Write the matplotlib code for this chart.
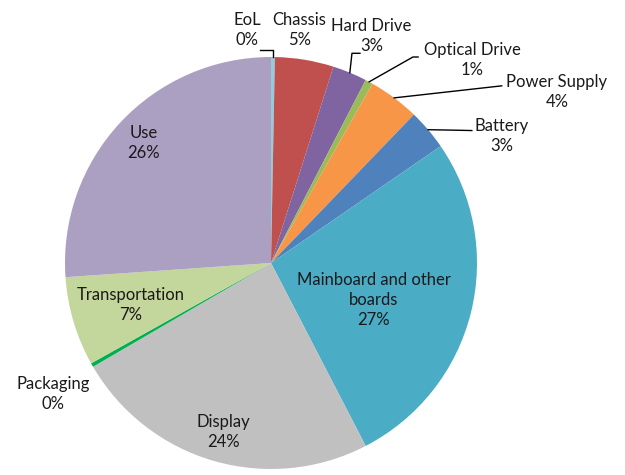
import numpy as np
from matplotlib import pyplot as plt

# dados (percentuais)
componentes = ["EoL", "Chassis", "Hard Drive", "Optical Drive", "Power Supply",
               "Battery", "Mainboard and other\nboards", "Display", "Packaging",
               "Transportation", "Use"]
valores = [0.3, 4.6, 2.7, 0.6, 4.0, 3.2, 27.0, 24.2, 0.3, 7.0, 26.1]
cores = ["#93CDDD", "#C0504D", "#8064A2", "#9BBB59", "#F79646", "#4F81BD",
         "#4BACC6", "#C0C0C0", "#00B050", "#C3D69B", "#ACA0C2"]

# posicoes dos rotulos (coordenadas do pie, raio 1)
pos_rotulos = [(-0.116, 1.131), (0.138, 1.131), (0.488, 1.102), (0.976, 0.985),
               (1.388, 0.830), (1.121, 0.617), (0.50, -0.180), (-0.233, -0.820),
               (-1.058, -0.636), (-0.680, -0.204), (-0.617, 0.583)]
# linhas de chamada: pontos intermediarios e final (None = mesmo x da borda)
chamadas = {
    0: [(None, 1.034), (-0.053, 1.034)],
    2: [(0.393, 1.018), (0.432, 1.018)],
    3: [(0.689, 1.0), (0.714, 1.0)],
    4: [(1.12, 0.86)],
    5: [(0.88, 0.645), (0.975, 0.643)],
}

fig = plt.figure(figsize=(6.25, 4.75), dpi=100)
ax = fig.add_axes([0, 0, 1, 1])

wedges, _ = ax.pie(valores, colors=cores, startangle=90, counterclock=False,
                   radius=1, center=(0, 0), frame=True,
                   wedgeprops=dict(linewidth=0))
# pixel -> coordenada: centro (271, 263), raio 206 px
ax.set_xlim((0 - 271) / 206, (625 - 271) / 206)
ax.set_ylim((263 - 475) / 206, (263 - 0) / 206)
ax.set_aspect("auto")
ax.axis("off")

total = sum(valores)
for i, (nome, v) in enumerate(zip(componentes, valores)):
    texto = nome + "\n" + str(int(round(100 * v / total))) + "%"
    x, y = pos_rotulos[i]
    ax.text(x, y, texto, ha="center", va="center", fontsize=12,
            family=["Lato", "DejaVu Sans"], color="#1a1a1a", linespacing=1.3)
    if i in chamadas:
        w = wedges[i]
        ang = np.deg2rad((w.theta1 + w.theta2) / 2)
        x0, y0 = np.cos(ang), np.sin(ang)
        xs, ys = [x0], [y0]
        for px, py in chamadas[i]:
            xs.append(x0 if px is None else px)
            ys.append(py)
        ax.plot(xs, ys, color="black", linewidth=1)

plt.savefig("out.png", dpi=100)
plt.close()
